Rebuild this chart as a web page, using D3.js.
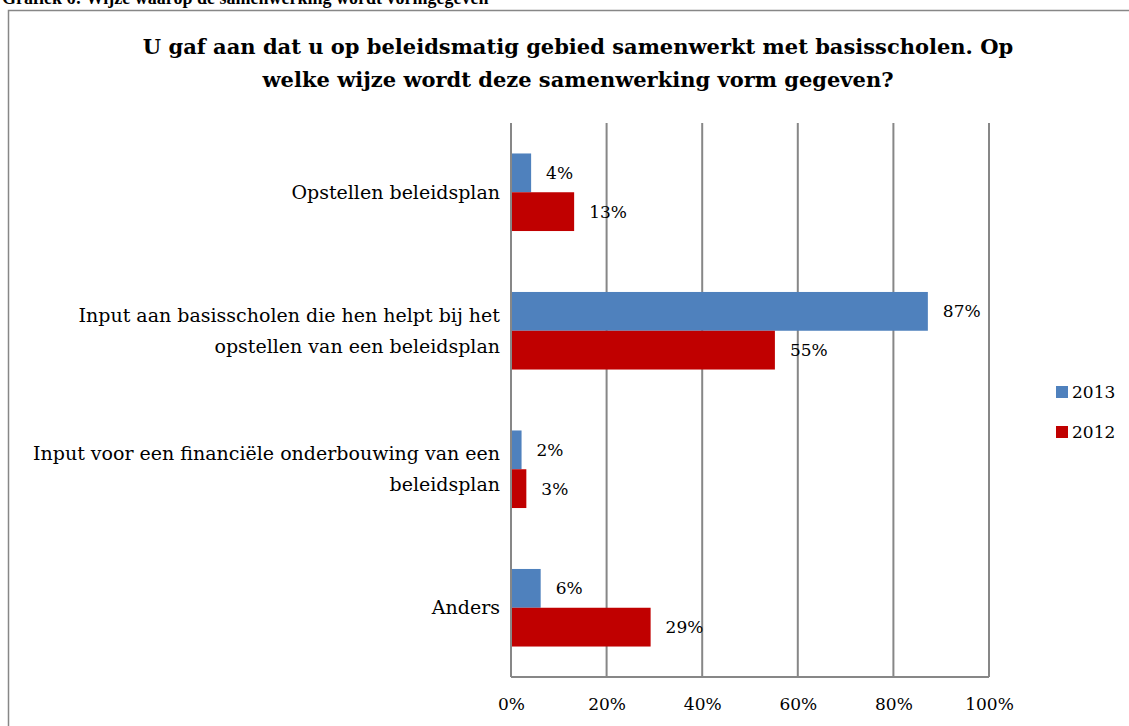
<!DOCTYPE html>
<html>
<head>
<meta charset="utf-8">
<script src="https://cdn.jsdelivr.net/npm/d3@7"></script>
<style>
  body { margin: 0; background: #fff; }
  text { font-family: "DejaVu Serif", "Liberation Serif", serif; fill: #000; }
</style>
</head>
<body>
<svg id="chart" width="1129" height="726"></svg>
<script>
var categories = [
  ["Opstellen beleidsplan"],
  ["Input aan basisscholen die hen helpt bij het", "opstellen van een beleidsplan"],
  ["Input voor een financiële onderbouwing van een", "beleidsplan"],
  ["Anders"]
];
var seriesNames = ["2013", "2012"];
var values2013 = [4, 87, 2, 6];
var values2012 = [13, 55, 3, 29];
var xTicks = [0, 20, 40, 60, 80, 100];

var colors = { "2013": "#4f81bd", "2012": "#c00000" };
var gridColor = "#878787";

var svg = d3.select("#chart");

// header above the frame (cut off in the source)
svg.append("text")
  .attr("x", 2).attr("y", 4)
  .style("font-family", "Liberation Serif")
  .style("font-weight", "bold").style("font-size", "18px")
  .text("Grafiek 6: Wijze waarop de samenwerking wordt vormgegeven");

// frame
svg.append("path")
  .attr("d", "M1129,10.5 H8.5 V726")
  .attr("fill", "none").attr("stroke", gridColor).attr("stroke-width", 1.5);

// title
var title = svg.append("text")
  .attr("text-anchor", "middle")
  .style("font-weight", "bold").style("font-size", "21px");
title.append("tspan").attr("x", 578).attr("y", 54)
  .text("U gaf aan dat u op beleidsmatig gebied samenwerkt met basisscholen. Op");
title.append("tspan").attr("x", 578).attr("y", 87)
  .text("welke wijze wordt deze samenwerking vorm gegeven?");

var plotLeft = 511, plotRight = 989, plotTop = 123, plotBottom = 677;

var x = d3.scaleLinear().domain([0, 100]).range([plotLeft, plotRight]);
var y = d3.scaleBand().domain(d3.range(categories.length)).range([plotTop, plotBottom]).paddingInner(0.44).paddingOuter(0.22);
var ySub = d3.scaleBand().domain(seriesNames).range([0, y.bandwidth()]);

// gridlines
svg.append("g").selectAll("line")
  .data(xTicks)
  .enter().append("line")
  .attr("x1", function (d) { return x(d); })
  .attr("x2", function (d) { return x(d); })
  .attr("y1", plotTop).attr("y2", plotBottom)
  .attr("stroke", gridColor).attr("stroke-width", 2);

svg.append("line")
  .attr("x1", plotLeft).attr("x2", plotRight)
  .attr("y1", plotBottom).attr("y2", plotBottom)
  .attr("stroke", gridColor).attr("stroke-width", 2);

// x tick labels
var xAxis = svg.append("g")
  .attr("transform", "translate(0," + plotBottom + ")")
  .call(d3.axisBottom(x).tickValues(xTicks).tickSize(0).tickPadding(21)
    .tickFormat(function (d) { return d + "%"; }));
xAxis.select(".domain").remove();
xAxis.selectAll("text")
  .style("font-family", "DejaVu Serif").style("font-size", "17px").attr("fill", "#000");

// bars
var rows = categories.map(function (c, i) {
  return { i: i, label: c, vals: [
    { key: "2013", v: values2013[i] },
    { key: "2012", v: values2012[i] }
  ] };
});

var groups = svg.append("g").selectAll("g")
  .data(rows)
  .enter().append("g")
  .attr("transform", function (d) { return "translate(0," + y(d.i) + ")"; });

groups.selectAll("rect")
  .data(function (d) { return d.vals; })
  .enter().append("rect")
  .attr("x", x(0) + 1)
  .attr("y", function (d) { return ySub(d.key); })
  .attr("width", function (d) { return x(d.v) - x(0); })
  .attr("height", ySub.bandwidth())
  .attr("fill", function (d) { return colors[d.key]; });

groups.selectAll("text.val")
  .data(function (d) { return d.vals; })
  .enter().append("text")
  .attr("class", "val")
  .attr("x", function (d) { return x(d.v) + 16; })
  .attr("y", function (d) { return ySub(d.key) + ySub.bandwidth() / 2; })
  .attr("dy", "0.35em")
  .style("font-size", "17px")
  .text(function (d) { return d.v + "%"; });

// category labels
groups.append("text")
  .attr("text-anchor", "end")
  .style("font-size", "19px")
  .each(function (d) {
    var t = d3.select(this);
    var n = d.label.length;
    d.label.forEach(function (line, k) {
      t.append("tspan")
        .attr("x", 500)
        .attr("y", y.bandwidth() / 2 + (k - (n - 1) / 2) * 31)
        .attr("dy", "0.35em")
        .text(line);
    });
  });

// legend
var legend = svg.append("g").selectAll("g")
  .data(seriesNames)
  .enter().append("g")
  .attr("transform", function (d, i) { return "translate(1056," + (386 + i * 40) + ")"; });
legend.append("rect")
  .attr("width", 12).attr("height", 12)
  .attr("fill", function (d) { return colors[d]; });
legend.append("text")
  .attr("x", 16).attr("y", 6).attr("dy", "0.35em")
  .style("font-size", "17px")
  .text(function (d) { return d; });
</script>
</body>
</html>
